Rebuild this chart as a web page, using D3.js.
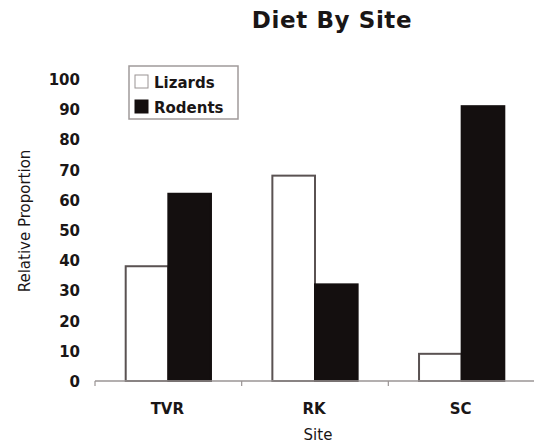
<!DOCTYPE html>
<html>
<head>
<meta charset="utf-8">
<script src="https://cdn.jsdelivr.net/npm/d3@7/dist/d3.min.js"></script>
<style>
  html, body { margin: 0; padding: 0; background: #fff; }
  svg { display: block; }
  text { font-family: "DejaVu Sans", Verdana, sans-serif; fill: #1a1616; }
</style>
</head>
<body>
<svg id="chart" width="534" height="445"></svg>
<script>
// Diet composition per site
const sites = ["TVR", "RK", "SC"];
const seriesNames = ["Lizards", "Rodents"];
const lizards = [38, 68, 9];
const rodents = [62, 32, 91];
const yTicks = [0, 10, 20, 30, 40, 50, 60, 70, 80, 90, 100];

const fills = { Lizards: "#ffffff", Rodents: "#140f0f" };

const svg = d3.select("#chart");
const plot = { left: 95, right: 535, top: 79, bottom: 381 };

const x = d3.scaleBand().domain(sites).range([plot.left, plot.right]).paddingInner(0).paddingOuter(0);
const xInner = d3.scaleBand().domain(seriesNames).range([0, x.bandwidth()]).paddingInner(0).paddingOuter(0.72);
const y = d3.scaleLinear().domain([0, 100]).range([plot.bottom, plot.top]);

const rows = sites.map((s, i) => ({ site: s, values: [
  { key: "Lizards", value: lizards[i] },
  { key: "Rodents", value: rodents[i] }
]}));

// Title
svg.append("text")
  .attr("x", 332).attr("y", 28)
  .attr("text-anchor", "middle")
  .style("font-size", "23px").style("font-weight", "bold")
  .style("letter-spacing", "0.6px")
  .text("Diet By Site");

// Y tick labels (no axis line)
const yAxis = d3.axisLeft(y).tickValues(yTicks).tickSize(0).tickPadding(0);
const gy = svg.append("g").attr("transform", `translate(80,0)`).call(yAxis);
gy.select(".domain").remove();
gy.selectAll("text")
  .attr("dy", "0.36em")
  .style("font-size", "15px").style("font-weight", "bold")
  .style("font-family", "DejaVu Sans, sans-serif").style("fill", "#1a1616");

// Bars
const groups = svg.append("g").selectAll("g").data(rows).join("g")
  .attr("transform", d => `translate(${x(d.site)},0)`);
groups.selectAll("rect").data(d => d.values).join("rect")
  .attr("x", d => xInner(d.key))
  .attr("y", d => y(d.value))
  .attr("width", xInner.bandwidth())
  .attr("height", d => y(0) - y(d.value))
  .attr("fill", d => fills[d.key])
  .attr("stroke", d => d.key === "Lizards" ? "#5a5252" : "#140f0f")
  .attr("stroke-width", 2);

// X axis baseline with ticks between categories
const xAxisG = svg.append("g");
xAxisG.append("line")
  .attr("x1", plot.left).attr("x2", plot.right)
  .attr("y1", plot.bottom).attr("y2", plot.bottom)
  .attr("stroke", "#9a9494").attr("stroke-width", 1.5);
const boundaries = sites.map(s => x(s)).concat([x(sites[sites.length - 1]) + x.bandwidth()]);
xAxisG.selectAll("line.tick").data(boundaries).join("line")
  .attr("class", "tick")
  .attr("x1", d => d).attr("x2", d => d)
  .attr("y1", plot.bottom).attr("y2", plot.bottom + 5)
  .attr("stroke", "#9a9494").attr("stroke-width", 1.2);

// Category labels
svg.append("g").selectAll("text").data(sites).join("text")
  .attr("x", d => x(d) + x.bandwidth() / 2 - 1)
  .attr("y", 414)
  .attr("text-anchor", "middle")
  .style("font-size", "15px").style("font-weight", "bold")
  .text(d => d);

// Axis titles
svg.append("text")
  .attr("x", 318).attr("y", 440)
  .attr("text-anchor", "middle")
  .style("font-size", "15px")
  .text("Site");
svg.append("text")
  .attr("transform", "translate(30,221) rotate(-90)")
  .attr("text-anchor", "middle")
  .style("font-size", "15px")
  .text("Relative Proportion");

// Legend
const legend = svg.append("g").attr("transform", "translate(129,66)");
legend.append("rect")
  .attr("width", 109).attr("height", 53)
  .attr("fill", "#fff").attr("stroke", "#a09a9a").attr("stroke-width", 1.5);
const items = legend.selectAll("g").data(seriesNames).join("g")
  .attr("transform", (d, i) => `translate(6,${9 + i * 25})`);
items.append("rect")
  .attr("width", 13).attr("height", 13)
  .attr("fill", d => fills[d])
  .attr("stroke", d => d === "Lizards" ? "#9a9494" : "#140f0f")
  .attr("stroke-width", 1);
items.append("text")
  .attr("x", 19).attr("y", 12.5)
  .style("font-size", "15px").style("font-weight", "bold")
  .text(d => d);
</script>
</body>
</html>
